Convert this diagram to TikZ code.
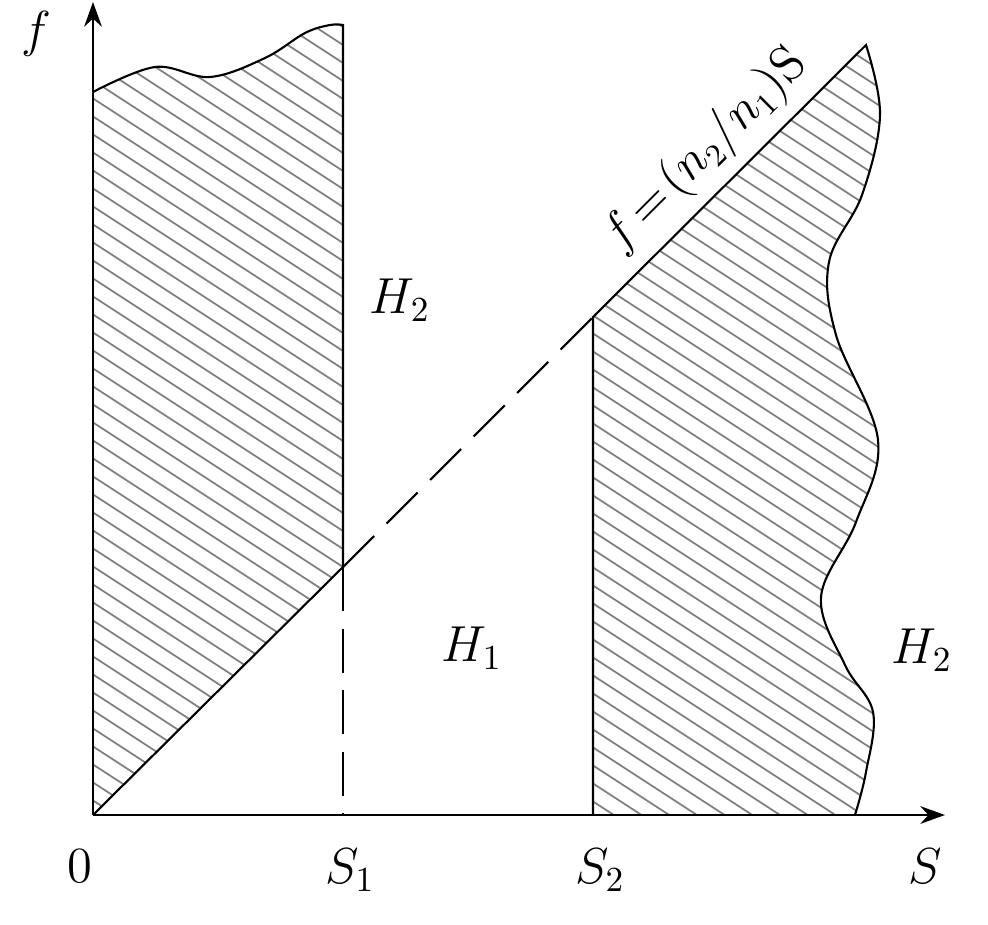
\documentclass[tikz,border=0pt]{standalone}
\usetikzlibrary{arrows.meta}

\begin{document}
\begin{tikzpicture}[x=0.01cm, y=-0.01cm, font=\fontsize{14}{16}\selectfont]

% Define styles
\tikzstyle{axis} = [line width=0.8pt, -{Stealth[length=7pt,width=5pt]}]
\tikzstyle{edge} = [line width=0.6pt]
\tikzstyle{guide} = [line width=0.6pt, dash pattern=on 12.5pt off 5pt]
\tikzstyle{hatch} = [gray, line width=0.5pt]
\tikzstyle{lbl} = [inner sep=0pt]

\useasboundingbox (0,0) rectangle (988,924);

% Key points
\coordinate (O) at (93,815);
\coordinate (s1) at (343,815);
\coordinate (s2) at (593,815);
\coordinate (p1) at (343,567);
\coordinate (p2) at (593,317);
\coordinate (p3) at (866,45);
\coordinate (yend) at (93,2);
\coordinate (xend) at (945,815);

% Left hatched region
\begin{scope}
\clip (O) -- plot[smooth, tension=0.6] coordinates {(93,92) (155,67) (210,77) (265,58) (305,33) (330,25) (343,25)} -- (p1) -- cycle;
\foreach \i in {-610,-592,...,790}
  \draw[hatch] (0,\i) -- ++(1000,650);
\end{scope}
\draw[edge] plot[smooth, tension=0.6] coordinates {(93,92) (155,67) (210,77) (265,58) (305,33) (330,25) (343,25)} -- (p1) -- (O);

% Right hatched region
\begin{scope}
\clip (s2) -- (p2) -- plot[smooth, tension=0.6] coordinates {(866,45) (880,115) (862,195) (829,262) (836,335) (878,440) (856,522) (821,597) (845,665) (873,712) (866,772) (855,815)} -- cycle;
\foreach \i in {-610,-592,...,790}
  \draw[hatch] (0,\i) -- ++(1000,650);
\end{scope}
\draw[edge] (s2) -- (p2) -- plot[smooth, tension=0.6] coordinates {(866,45) (880,115) (862,195) (829,262) (836,335) (878,440) (856,522) (821,597) (845,665) (873,712) (866,772) (855,815)};

% Dashed guides
\draw[guide] (p1) -- (s1);
\draw[guide] (p1) -- (p2);

% Axes
\draw[axis] (O) -- (yend);
\draw[axis] (O) -- (xend);

% Labels
\node[lbl] (lf) at (36,34) {$f$};
\node[lbl] (l0) at (80,866) {$0$};
\node[lbl] (lS1) at (350,870) {$S_1$};
\node[lbl] (lS2) at (600,870) {$S_2$};
\node[lbl] (lS) at (925,866) {$S$};
\node[lbl] (lH2a) at (400,300) {$H_2$};
\node[lbl] (lH1) at (472,648) {$H_1$};
\node[lbl] (lH2b) at (922,650) {$H_2$};
\node[lbl, rotate=45, font=\fontsize{13.5}{15}\selectfont] (lline) at (706,151) {$f\mskip2mu{=}\mskip2mu(n_2/n_1)\mathrm{S}$};

\end{tikzpicture}
\end{document}
